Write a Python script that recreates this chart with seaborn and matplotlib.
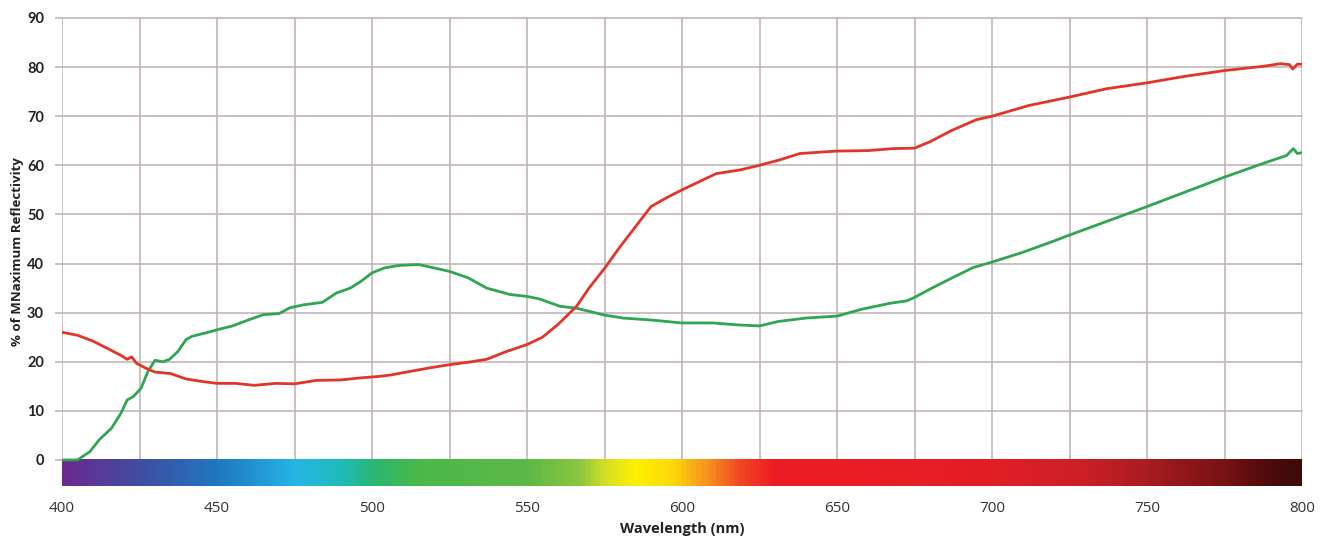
import numpy as np
import pandas as pd
import matplotlib
matplotlib.use("Agg")
import matplotlib.pyplot as plt
from matplotlib.colors import LinearSegmentedColormap
import seaborn as sns

# ---- data ----
red_nm = [400, 405, 410, 415, 419, 421, 422.5, 424, 427, 430, 435, 440, 445, 450, 456, 462,
          469, 475, 482, 490, 496, 502, 506, 512, 519, 525, 532, 537, 543, 550, 555, 560,
          566, 570, 575, 580, 585, 590, 595, 600, 606, 611, 619, 625, 632, 638, 645, 650,
          660, 668, 675, 680, 687, 695, 700, 712, 725, 737, 750, 762, 775, 788, 793, 796,
          797, 798.5, 800]
red_val = [26.0, 25.4, 24.2, 22.6, 21.3, 20.5, 21.0, 19.7, 18.7, 17.9, 17.6, 16.5, 16.0, 15.6, 15.6, 15.2,
           15.6, 15.5, 16.2, 16.3, 16.7, 17.0, 17.3, 18.0, 18.8, 19.4, 20.0, 20.5, 22.0, 23.5, 25.0, 27.6,
           31.3, 35.0, 39.0, 43.4, 47.5, 51.6, 53.4, 55.0, 56.8, 58.3, 59.1, 60.0, 61.2, 62.4, 62.7, 62.9,
           63.0, 63.4, 63.5, 64.8, 67.1, 69.3, 70.0, 72.2, 73.9, 75.6, 76.8, 78.1, 79.3, 80.2, 80.7, 80.5,
           79.6, 80.6, 80.6]

green_nm = [400, 405, 409, 412, 416, 419, 421, 423, 425.5, 427.7, 430, 432.5, 434.7, 437.4, 440, 442,
            446.5, 450, 455, 460.5, 465, 470, 473.5, 478, 484, 488.5, 493, 496.5, 500, 504, 508.5, 515,
            521.5, 525, 531, 537, 544.5, 550, 554, 560.6, 566, 575, 581, 590, 600, 610, 618, 625,
            631, 640, 650, 658, 667, 672.5, 675, 680, 687.5, 694, 700, 710, 720, 725, 737.5, 750,
            762.5, 775, 788, 795, 797.2, 798.5, 800]
green_val = [0.0, 0.0, 1.7, 4.1, 6.5, 9.5, 12.2, 12.9, 14.6, 18.0, 20.3, 20.0, 20.5, 22.1, 24.5, 25.2,
             25.9, 26.5, 27.3, 28.6, 29.6, 29.8, 31.0, 31.6, 32.1, 34.0, 35.0, 36.4, 38.1, 39.1, 39.6, 39.8,
             38.9, 38.4, 37.1, 35.0, 33.7, 33.3, 32.8, 31.3, 30.9, 29.5, 28.9, 28.5, 27.9, 27.9, 27.5, 27.3,
             28.2, 28.9, 29.3, 30.7, 31.9, 32.4, 33.1, 34.8, 37.2, 39.2, 40.3, 42.3, 44.6, 45.8, 48.7, 51.6,
             54.6, 57.6, 60.5, 62.0, 63.4, 62.4, 62.6]

x_ticks = [400, 450, 500, 550, 600, 650, 700, 750, 800]
y_ticks = [0, 10, 20, 30, 40, 50, 60, 70, 80, 90]

# spectrum bar colour stops (wavelength, colour)
spec_nm = [400, 425, 450, 475, 490, 500, 515, 550, 567, 575, 585, 597, 608, 620, 630, 700, 730, 750, 775, 790, 800]
spec_col = ["#6b2a8f", "#3f4ea2", "#1f78c1", "#25b6e6", "#1fbcb5", "#2bb673", "#4bb848", "#5cb947",
            "#8dc63f", "#d4df26", "#fff200", "#fdd80a", "#f7941d", "#ef4123", "#ed1c24", "#e31e25",
            "#cc2027", "#a91c21", "#7a1214", "#4e0a0c", "#3f0a0b"]

# ---- figure ----
sns.set_theme(style="white")
plt.rcParams["font.family"] = ["Open Sans", "DejaVu Sans"]

fig = plt.figure(figsize=(13.2, 5.42), dpi=100)
ax = fig.add_axes([62 / 1320, 1 - 486 / 542, 1240 / 1320, 468 / 542])

grid_c = "#bcb1b1"
ax.set_xlim(400, 800)
ax.set_ylim(-5.3, 90)
ax.set_xticks(x_ticks)
ax.set_yticks(y_ticks)
for x in np.arange(400, 801, 25):
    ax.axvline(x, color=grid_c, lw=1.1, zorder=0)
for y in y_ticks:
    ax.axhline(y, color=grid_c, lw=1.1, zorder=0, clip_on=False)

# spectrum bar
stops = [(w - 400) / 400 for w in spec_nm]
cmap = LinearSegmentedColormap.from_list("spec", list(zip(stops, spec_col)))
grad = np.linspace(0, 1, 800).reshape(1, -1)
ax.imshow(grad, cmap=cmap, aspect="auto", extent=[400, 800, -5.3, 0], zorder=2)

df_red = pd.DataFrame({"nm": red_nm, "val": red_val})
df_green = pd.DataFrame({"nm": green_nm, "val": green_val})
sns.lineplot(data=df_green, x="nm", y="val", color="#30a552", lw=2.0, ax=ax, zorder=5)
sns.lineplot(data=df_red, x="nm", y="val", color="#e2352a", lw=2.0, ax=ax, zorder=6)

ax.set_xlim(400, 800)
ax.set_ylim(-5.3, 90)

for s in ax.spines.values():
    s.set_visible(False)

ax.tick_params(axis="y", which="major", length=5, width=1.1, color=grid_c, pad=8, left=True,
               labelsize=10.5, labelcolor="#222222")
ax.tick_params(axis="x", which="both", length=0, pad=11, labelsize=11, labelcolor="#333333")
for lab in ax.get_yticklabels():
    lab.set_fontweight("bold")
    lab.set_family(["Lato", "DejaVu Sans"])

ax.set_xlabel("Wavelength (nm)", fontsize=10.5, fontweight="bold", color="#222222", labelpad=4)
ax.set_ylabel("% of MNaximum Reflectivity", fontsize=9.5, fontweight="bold", color="#222222", labelpad=2)

fig.savefig("out.png", dpi=100, facecolor="white")
